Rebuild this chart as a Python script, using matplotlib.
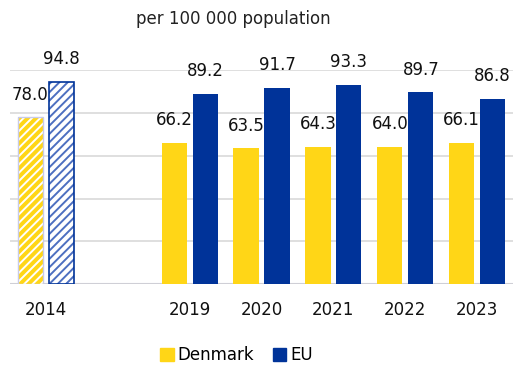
import matplotlib.pyplot as plt
import matplotlib.patches as mpatches

years = ['2014', '2019', '2020', '2021', '2022', '2023']
slots = [0, 2, 3, 4, 5, 6]          # leave an empty slot after 2014
denmark = [78.0, 66.2, 63.5, 64.3, 64.0, 66.1]
eu = [94.8, 89.2, 91.7, 93.3, 89.7, 86.8]

YELLOW = '#FFD617'
BLUE = '#003399'
W = 0.35
OFF = 0.215

plt.rcParams['font.family'] = 'DejaVu Sans'
plt.rcParams['hatch.linewidth'] = 1.4

fig = plt.figure(figsize=(5.22, 3.67), dpi=100)
ax = fig.add_axes([0.019, 0.226, 0.964, 0.582])

for i, (x, d, e) in enumerate(zip(slots, denmark, eu)):
    if i == 0:
        # older reference year drawn hatched
        ax.bar(x - OFF, d, W, color=YELLOW, edgecolor='white', hatch='////', linewidth=0, zorder=3)
        ax.bar(x - OFF, d, W, fill=False, edgecolor='#c8cbe8', linewidth=1, zorder=4)
        ax.bar(x + OFF, e, W, color='white', edgecolor='#4d6fc0', hatch='////', linewidth=0, zorder=3)
        ax.bar(x + OFF, e, W, fill=False, edgecolor=BLUE, linewidth=1.2, zorder=4)
    else:
        ax.bar(x - OFF, d, W, color=YELLOW, zorder=3)
        ax.bar(x + OFF, e, W, color=BLUE, zorder=3)
    for xx, v in ((x - OFF, d), (x + OFF, e)):
        ax.annotate(f'{v:.1f}', (xx, v), xytext=(0, 10), textcoords='offset points',
                    ha='center', va='bottom', fontsize=12, color='#111111',
                    annotation_clip=False)

ax.set_xlim(-0.5, 6.5)
ax.set_ylim(0, 100)
ax.set_yticks(range(0, 101, 20))
ax.set_yticklabels([])
ax.set_xticks(slots)
ax.set_xticklabels(years, fontsize=12, color='#111111')
ax.tick_params(axis='both', length=0)
ax.tick_params(axis='x', pad=12)
ax.grid(axis='y', color='#d9d9d9', linewidth=1.2, zorder=0)
for s in ax.spines.values():
    s.set_visible(False)
ax.axhline(0, color='#cfcfd6', linewidth=1.5, zorder=2)

fig.text(0.447, 0.948, 'per 100 000 population', ha='center', va='center',
         fontsize=12, color='#222222')

handles = [mpatches.Patch(color=YELLOW, label='Denmark'),
           mpatches.Patch(color=BLUE, label='EU')]
fig.legend(handles=handles, loc='center', bbox_to_anchor=(0.453, 0.032), ncol=2,
           frameon=False, fontsize=12, handlelength=0.8, handleheight=0.8,
           handletextpad=0.25, columnspacing=1.1)

fig.savefig('out.png', dpi=100)
